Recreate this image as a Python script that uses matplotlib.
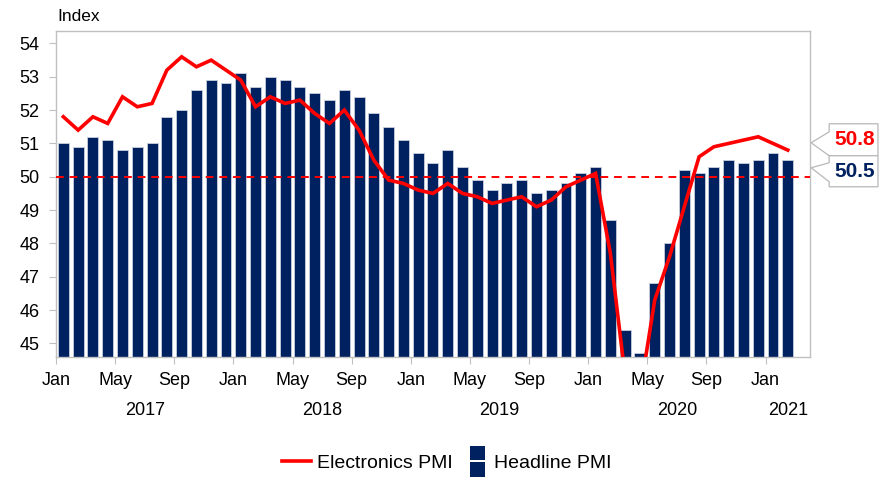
import numpy as np
import matplotlib
matplotlib.use('Agg')
import matplotlib.pyplot as plt
from matplotlib.patches import Polygon, Rectangle
from matplotlib.lines import Line2D
from matplotlib.legend_handler import HandlerBase

plt.rcParams['font.family'] = ['Liberation Sans', 'DejaVu Sans']

# monthly data, Jan 2017 .. Feb 2021
months = ['Jan', 'Feb', 'Mar', 'Apr', 'May', 'Jun',
          'Jul', 'Aug', 'Sep', 'Oct', 'Nov', 'Dec']
years = [2017, 2018, 2019, 2020, 2021]

headline_pmi = [51.0, 50.9, 51.2, 51.1, 50.8, 50.9, 51.0, 51.8, 52.0, 52.6, 52.9, 52.8,
                53.1, 52.7, 53.0, 52.9, 52.7, 52.5, 52.3, 52.6, 52.4, 51.9, 51.5, 51.1,
                50.7, 50.4, 50.8, 50.3, 49.9, 49.6, 49.8, 49.9, 49.5, 49.6, 49.8, 50.1,
                50.3, 48.7, 45.4, 44.7, 46.8, 48.0, 50.2, 50.1, 50.3, 50.5, 50.4, 50.5,
                50.7, 50.5]
electronics_pmi = [51.8, 51.4, 51.8, 51.6, 52.4, 52.1, 52.2, 53.2, 53.6, 53.3, 53.5, 53.2,
                   52.9, 52.1, 52.4, 52.2, 52.3, 51.9, 51.6, 52.0, 51.4, 50.5, 49.9, 49.8,
                   49.6, 49.5, 49.8, 49.5, 49.4, 49.2, 49.3, 49.4, 49.1, 49.3, 49.7, 49.9,
                   50.1, 47.7, 44.0, 43.5, 46.3, 47.6, 49.1, 50.6, 50.9, 51.0, 51.1, 51.2,
                   51.0, 50.8]

navy = '#00215F'
red = '#FF0000'
grey = '#C0C0C0'


class SplitSquareHandler(HandlerBase):
    # navy legend icon split by a thin white gap
    def create_artists(self, legend, orig_handle, xdescent, ydescent,
                       width, height, fontsize, trans):
        w, h, gap = 10.8, 10.6, 1.2
        cx = width / 2 - xdescent + 3.0
        cy = height / 2 - ydescent
        top = Rectangle((cx - w / 2, cy + gap / 2), w, h, facecolor=navy,
                        edgecolor='none', transform=trans)
        bot = Rectangle((cx - w / 2, cy - gap / 2 - h), w, h, facecolor=navy,
                        edgecolor='none', transform=trans)
        return [top, bot]


n = len(headline_pmi)
x = np.arange(n)

fig = plt.figure(figsize=(8.94, 4.79), dpi=100)
ax = fig.add_axes([0.0626, 0.2553, 0.9060 - 0.0626, 0.935 - 0.2553])

ax.bar(x, headline_pmi, width=0.74, color=navy, edgecolor='#C8CEDC', linewidth=0.6, zorder=2)
ax.axhline(50, color=red, lw=1.4, ls=(0, (4, 3)), zorder=3)
ax.plot(x, electronics_pmi, color=red, lw=2.6, zorder=4, solid_joinstyle='miter')

ax.set_xlim(-0.5, n + 0.5)
ax.set_ylim(44.6, 54.37)
ax.set_yticks(range(45, 55))
ax.tick_params(axis='y', length=5, color=grey, labelsize=13, pad=7)

# month ticks on Jan/May/Sep boundaries
tick_pos = [i - 0.5 for i in range(0, n) if i % 4 == 0]
ax.set_xticks(tick_pos)
ax.set_xticklabels([months[i % 12] for i in range(0, n) if i % 4 == 0])
ax.tick_params(axis='x', length=5, color=grey, labelsize=13, pad=6)

for s in ax.spines.values():
    s.set_color(grey)
    s.set_linewidth(1.0)

# year labels centred on visible span
for k, yr in enumerate(years):
    lo = k * 12 - 0.5
    hi = min(lo + 12, n + 0.5)
    ax.text((lo + hi) / 2, -0.165, str(yr), transform=ax.get_xaxis_transform(),
            ha='center', va='center', fontsize=13)

fig.text(0.064, 0.966, 'Index', ha='left', va='center', fontsize=12.5)


# value callouts at right
def callout(top, bot, tip_y, notch_top, notch_bot, txt, col):
    x0, x1, tip = n + 1.8, n + 5.1, n + 0.58
    pts = [(x0, top), (x1, top), (x1, bot), (x0, bot), (x0, notch_bot),
           (tip, tip_y), (x0, notch_top)]
    ax.add_patch(Polygon(pts, closed=True, facecolor='white', edgecolor='#B8B8B8',
                         lw=0.9, clip_on=False, zorder=5))
    ax.text((x0 + x1) / 2 + 0.05, (top + bot) / 2, txt, color=col, fontsize=15,
            fontweight='bold', ha='center', va='center', clip_on=False, zorder=6)


callout(51.59, 50.63, 51.02, 51.35, 50.63, f'{electronics_pmi[-1]:.1f}', red)
callout(50.63, 49.70, 50.27, 50.42, 49.85, f'{headline_pmi[-1]:.1f}', navy)

handles = [Line2D([0], [0], color=red, lw=2.6), 'bar']
fig.legend(handles, ['Electronics PMI', 'Headline PMI'], loc='center',
           bbox_to_anchor=(0.5, 0.033), ncol=2, frameon=False, fontsize=14,
           handlelength=1.45, columnspacing=0.3, handletextpad=0.35,
           handler_map={str: SplitSquareHandler()})

fig.savefig('out.png', dpi=100)
